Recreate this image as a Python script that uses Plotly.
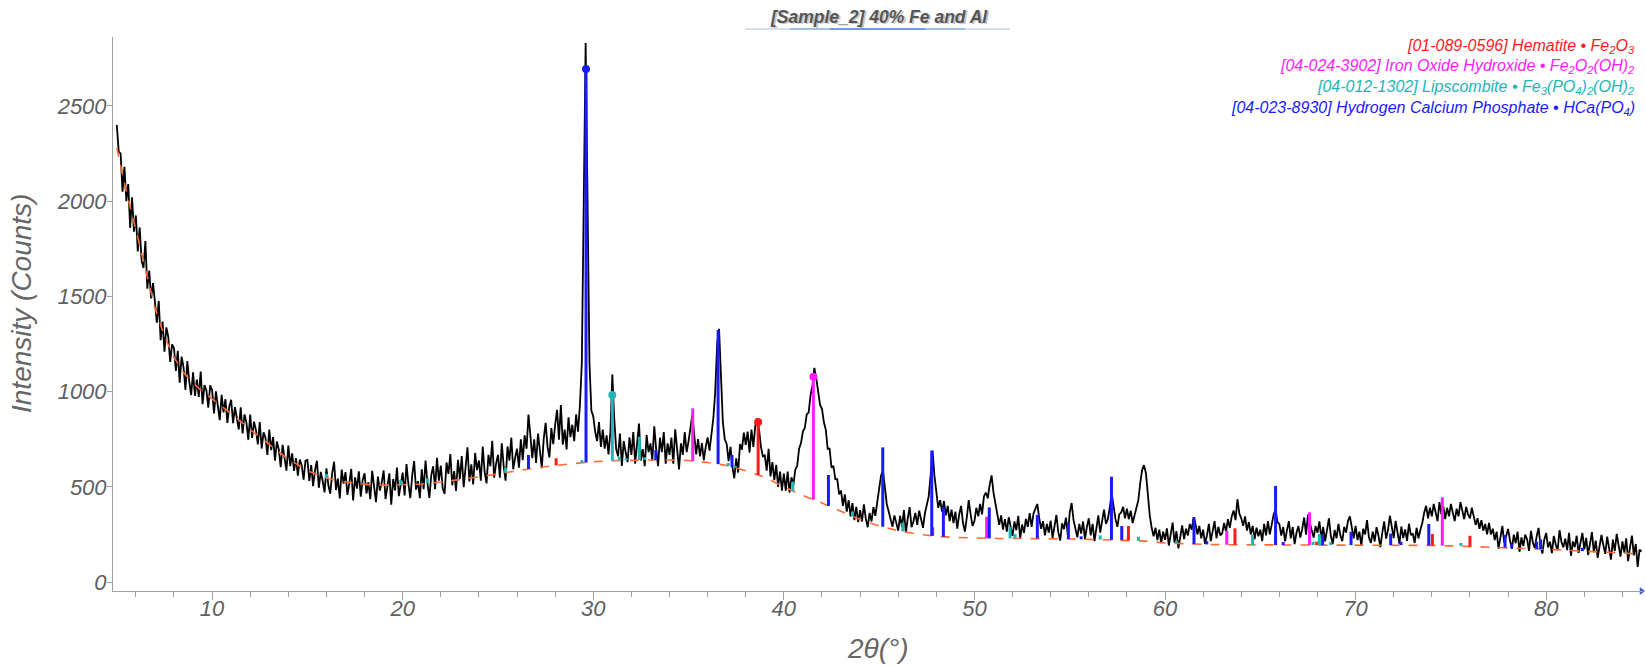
import numpy as np
import plotly.graph_objects as go

# ---------------- data ----------------
theta_start = 5.0
theta_step = 0.1

I_05_14 = [
    2400, 2260, 2250, 2050, 2180, 2000, 2090, 1860, 2020, 1840,
    1925, 1736, 1862, 1688, 1649, 1790, 1540, 1635, 1490, 1570,
    1472, 1362, 1476, 1270, 1368, 1210, 1337, 1288, 1156, 1248,
    1228, 1109, 1214, 1047, 1184, 1129, 1009, 1160, 1055, 982,
    1101, 978, 1063, 972, 1105, 934, 1034, 1007, 916, 1033,
    1008, 885, 1001, 926, 850, 983, 891, 960, 836, 921,
    957, 834, 919, 860, 801, 918, 780, 880, 838, 747,
    880, 757, 842, 798, 723, 840, 701, 786, 758, 667,
    800, 693, 761, 638, 738, 695, 603, 720, 644, 585,
    717, 609, 676, 584, 651, 559, 643, 614, 538, 637,
]
I_15_24 = [
    641, 531, 614, 504, 587, 637, 495, 578, 532, 471,
    597, 508, 464, 571, 632, 483, 543, 439, 591, 517,
    577, 458, 518, 594, 428, 550, 491, 581, 448, 535,
    571, 465, 524, 435, 584, 495, 420, 554, 480, 521,
    586, 436, 511, 571, 406, 541, 481, 601, 451, 526,
    575, 455, 620, 515, 440, 560, 635, 485, 530, 440,
    592, 488, 638, 518, 442, 562, 608, 488, 652, 532,
    612, 492, 462, 628, 568, 672, 508, 582, 478, 642,
    542, 662, 498, 602, 708, 528, 618, 512, 678, 588,
    638, 532, 712, 578, 518, 668, 608, 742, 548, 622,
]
I_25_34 = [
    668, 548, 728, 608, 532, 712, 638, 758, 592, 652,
    700, 600, 750, 640, 770, 700, 880, 770, 650, 750,
    626, 780, 682, 598, 752, 836, 710, 654, 808, 724,
    826, 904, 748, 930, 722, 800, 696, 865, 761, 826,
    740, 880, 790, 930, 1150, 1900, 2830, 2000, 1150, 900,
    870, 790, 740, 840, 710, 800, 700, 770, 670, 790,
    1090, 860, 700, 660, 780, 610, 740, 680, 630, 760,
    668, 788, 622, 728, 832, 638, 698, 608, 772, 682,
    728, 638, 818, 698, 608, 758, 682, 788, 622, 728,
    668, 758, 622, 802, 698, 592, 728, 668, 788, 682,
]
I_35_44 = [
    740, 800, 880, 770, 670, 750, 660, 730, 640, 710,
    760, 690, 780, 860, 1000, 1250, 1330, 1050, 840, 750,
    725, 635, 710, 605, 545, 650, 575, 725, 695, 785,
    720, 790, 680, 800, 710, 820, 860, 800, 710, 660,
    665, 585, 700, 555, 630, 535, 615, 500, 580, 480,
    570, 480, 580, 470, 550, 510, 590, 610, 700, 730,
    790, 810, 880, 890, 980, 1030, 1125, 1070, 1000, 930,
    910, 840, 800, 700, 700, 600, 610, 540, 540, 460,
    480, 400, 460, 370, 430, 345, 415, 325, 395, 315,
    378, 318, 408, 333, 288, 363, 318, 393, 348, 420,
]
I_45_54 = [
    480, 560, 585, 510, 410, 370, 320, 290, 350, 300,
    270, 348, 288, 378, 258, 333, 393, 288, 318, 363,
    300, 375, 320, 285, 360, 400, 450, 560, 690, 560,
    460, 390, 430, 370, 425, 350, 400, 320, 380, 310,
    370, 280, 355, 400, 310, 265, 340, 430, 355, 295,
    320, 390, 345, 410, 355, 450, 470, 440, 510, 560,
    470, 410, 345, 300, 350, 275, 330, 265, 340, 290,
    242, 318, 272, 348, 228, 302, 258, 332, 290, 362,
    290, 360, 385, 410, 335, 280, 320, 245, 305, 260,
    322, 232, 292, 352, 262, 218, 308, 278, 338, 248,
]
I_55_64 = [
    365, 415, 325, 270, 235, 305, 255, 318, 225, 290,
    335, 245, 305, 215, 290, 350, 260, 320, 380, 305,
    330, 390, 465, 400, 330, 290, 355, 365, 395, 335,
    385, 330, 375, 310, 355, 385, 430, 520, 590, 614,
    570, 460, 350, 285, 240, 285, 220, 275, 205, 265,
    222, 282, 192, 252, 312, 207, 267, 177, 237, 297,
    225, 280, 245, 305, 275, 340, 305, 250, 295, 230,
    275, 200, 245, 305, 215, 260, 320, 230, 290, 245,
    255, 310, 265, 330, 285, 345, 375, 325, 435, 360,
    335, 295, 345, 270, 315, 250, 295, 225, 285, 240,
]
I_65_74 = [
    275, 215, 305, 245, 320, 250, 315, 355, 380, 315,
    304, 244, 289, 214, 274, 319, 229, 289, 199, 259,
    294, 234, 279, 339, 249, 354, 309, 264, 234, 294,
    259, 319, 229, 289, 214, 274, 334, 244, 199, 274,
    230, 305, 245, 215, 290, 260, 320, 345, 275, 230,
    295, 220, 265, 190, 280, 250, 325, 235, 205, 265,
    213, 288, 243, 183, 258, 318, 228, 273, 348, 288,
    231, 321, 261, 201, 291, 231, 276, 216, 306, 246,
    255, 205, 285, 230, 275, 310, 365, 400, 335, 390,
    345, 410, 365, 320, 420, 355, 400, 330, 390, 345,
]
I_75_85 = [
    410, 355, 320, 385, 345, 420, 370, 330, 395, 355,
    335, 390, 345, 300, 335, 280, 325, 270, 305, 250,
    310, 250, 280, 220, 265, 175, 235, 295, 205, 250,
    279, 219, 174, 249, 204, 264, 159, 234, 189, 249,
    224, 164, 269, 209, 179, 239, 284, 194, 149, 224,
    257, 182, 212, 152, 242, 197, 167, 272, 212, 182,
    228, 168, 258, 138, 213, 183, 243, 153, 198, 258,
    172, 232, 142, 202, 262, 157, 217, 127, 202, 247,
    193, 148, 238, 178, 118, 223, 163, 253, 193, 133,
    214, 154, 229, 110, 184, 244, 140, 200, 80, 170,
    160,
]

# background (orange dashed)
bg_theta = [5, 5.5, 6, 6.5, 7, 7.5, 8, 8.5, 9, 9.5, 10, 11, 12, 13, 14, 15, 16, 17, 18,
            19, 20, 21, 22, 23, 24, 25, 26, 27, 28, 29, 30, 31, 32, 33, 34, 35, 36, 37,
            38, 39, 40, 41, 42, 43, 44, 45, 46, 47, 48, 49, 50, 51, 52, 53, 54, 55, 56,
            57, 58, 59, 60, 61, 62, 63, 64, 65, 66, 67, 68, 69, 70, 71, 72, 73, 74, 75,
            76, 77, 78, 79, 80, 81, 82, 83, 84, 85]
bg_counts = [2280, 2050, 1850, 1640, 1440, 1290, 1180, 1100, 1045, 1000, 960, 885, 800,
             720, 645, 585, 545, 525, 513, 508, 510, 515, 525, 537, 552, 568, 585, 600,
             612, 622, 632, 637, 640, 641, 641, 638, 628, 612, 585, 550, 500, 455, 415,
             370, 328, 295, 270, 252, 240, 234, 230, 229, 229, 229, 228, 226, 224, 222,
             220, 215, 205, 200, 198, 196, 195, 194, 194, 194, 194, 194, 194, 194, 194,
             194, 192, 190, 187, 184, 181, 177, 172, 167, 162, 157, 152, 147]

# reference sticks: (2theta, top counts)
hem_pos = [28.05, 38.65, 47.81, 58.08, 63.67, 67.96, 74.03, 76.0]
hem_top = [650, 840, 287, 294, 282, 212, 252, 243]

iox_pos = [35.22, 41.55, 50.64, 63.24, 67.58, 74.55]
iox_top = [912, 1078, 343, 270, 366, 445]

lip_pos = [16.0, 19.9, 21.3, 25.4, 29.4, 31.0, 31.37, 31.72, 32.42, 32.7, 37.08, 37.45,
           40.47, 43.6, 46.24, 51.87, 52.13, 56.6, 58.6, 60.6, 64.59, 67.77, 68.1,
           68.69, 75.53]
lip_top = [568, 535, 545, 600, 640, 982, 658, 650, 763, 655, 625, 610,
           527, 370, 312, 290, 252, 245, 238, 215, 247, 212, 252, 210, 205]

hcp_pos = [26.6, 29.62, 33.28, 36.55, 37.28, 42.34, 45.19, 47.76, 48.37, 50.78, 53.30,
           54.93, 55.6, 57.19, 57.73, 61.52, 62.19, 65.80, 66.2, 68.27, 69.76, 71.84,
           72.38, 73.84, 77.84, 78.19, 79.5, 79.71, 81.9]
hcp_top = [667, 2694, 693, 1323, 667, 562, 707, 690, 392, 392, 352, 312, 240, 553, 294,
           340, 215, 505, 210, 247, 264, 255, 212, 305, 247, 200, 212, 224, 180]

phases = [
    ("[01-089-0596] Hematite • Fe<sub>2</sub>O<sub>3</sub>", "#ff1a1a", hem_pos, hem_top),
    ("[04-024-3902] Iron Oxide Hydroxide • Fe<sub>2</sub>O<sub>2</sub>(OH)<sub>2</sub>", "#ff1aff", iox_pos, iox_top),
    ("[04-012-1302] Lipscombite • Fe<sub>3</sub>(PO<sub>4</sub>)<sub>2</sub>(OH)<sub>2</sub>", "#22b5b5", lip_pos, lip_top),
    ("[04-023-8930] Hydrogen Calcium Phosphate • HCa(PO<sub>4</sub>)", "#1a1aff", hcp_pos, hcp_top),
]

intensity = I_05_14 + I_15_24 + I_25_34 + I_35_44 + I_45_54 + I_55_64 + I_65_74 + I_75_85
two_theta = np.round(theta_start + theta_step * np.arange(len(intensity)), 2)

# ---------------- figure ----------------
fig = go.Figure()

fig.add_trace(go.Scatter(x=two_theta, y=intensity, mode="lines",
                         line=dict(color="black", width=1.8), hoverinfo="skip"))
fig.add_trace(go.Scatter(x=bg_theta, y=bg_counts, mode="lines",
                         line=dict(color="#ff6a33", width=1.6, dash="dash"), hoverinfo="skip"))

for name, color, pos, top in phases:
    xs, ys = [], []
    for p, t in zip(pos, top):
        b = float(np.interp(p, bg_theta, bg_counts))
        xs += [p, p, None]
        ys += [b, t, None]
    fig.add_trace(go.Scatter(x=xs, y=ys, mode="lines", line=dict(color=color, width=3),
                             hoverinfo="skip"))
    k = int(np.argmax(top))
    fig.add_trace(go.Scatter(x=[pos[k]], y=[top[k]], mode="markers",
                             marker=dict(color=color, size=8), hoverinfo="skip"))

# small blue end marker on the x axis
fig.add_trace(go.Scatter(x=[85.0], y=[-47], mode="markers", cliponaxis=False,
                         marker=dict(color="#3a5fd0", size=7, symbol="triangle-right"),
                         hoverinfo="skip"))

tick_font = dict(family="Liberation Sans, Arial, sans-serif", size=22, color="#5f5f5f",
                 style="italic")

fig.update_layout(
    width=1645, height=667,
    margin=dict(l=113, r=2, t=37, b=76),
    paper_bgcolor="white", plot_bgcolor="white",
    showlegend=False,
    xaxis=dict(range=[4.8, 85.08], tick0=0, dtick=10, ticks="outside", ticklen=8,
               tickcolor="#a0a0a0", showline=True, linecolor="#a0a0a0", linewidth=1,
               showgrid=False, zeroline=False, tickfont=tick_font, ticklabelstandoff=-10,
               minor=dict(dtick=2, ticks="outside", ticklen=5, tickcolor="#a0a0a0")),
    yaxis=dict(range=[-47, 2862], tick0=0, dtick=500, ticks="outside", ticklen=5,
               tickcolor="#a0a0a0", showline=True, linecolor="#a0a0a0", linewidth=1,
               showgrid=False, zeroline=False, tickfont=tick_font, ticklabelstandoff=-4),
)


def py(px):
    return (591 - px) / 554


def pxx(px):
    return (px - 113) / 1530


annotations = []
title_text = "[Sample_2] 40% Fe and Al"
annotations.append(dict(x=pxx(879), y=py(17), xref="paper", yref="paper", yanchor="middle",
                        xanchor="center", text=title_text, showarrow=False, xshift=1.5,
                        yshift=-1.5,
                        font=dict(family="Liberation Sans, Arial", size=17.5,
                                  color="rgba(0,0,0,0.22)", weight="bold", style="italic")))
annotations.append(dict(x=pxx(879), y=py(17), xref="paper", yref="paper", yanchor="middle",
                        xanchor="center", text=title_text, showarrow=False,
                        font=dict(family="Liberation Sans, Arial", size=17.5, color="#555555",
                                  weight="bold", style="italic")))
annotations.append(dict(x=pxx(21), y=py(304), xref="paper", yref="paper",
                        xanchor="center", yanchor="middle",
                        text="Intensity (Counts)", showarrow=False, textangle=-90,
                        font=dict(family="Liberation Sans, Arial", size=28, color="#666666",
                                  style="italic")))
annotations.append(dict(x=pxx(878), y=py(648), xref="paper", yref="paper",
                        xanchor="center", yanchor="middle",
                        text="2θ(°)", showarrow=False,
                        font=dict(family="Liberation Sans, Arial", size=28, color="#666666",
                                  style="italic")))
for i, (name, color, pos, top) in enumerate(phases):
    annotations.append(dict(x=1, y=py(46 + i * 20.7), xref="paper", yref="paper",
                            xanchor="right", yanchor="middle", xshift=-6, text=name,
                            showarrow=False,
                            font=dict(family="Liberation Sans, Arial", size=16, color=color,
                                      style="italic")))
fig.update_layout(annotations=annotations)

for x0, x1, op in [(745, 1010, 0.22), (790, 965, 0.32), (830, 925, 0.45)]:
    fig.add_shape(type="line", xref="paper", yref="paper",
                  x0=pxx(x0), x1=pxx(x1), y0=py(29), y1=py(29),
                  line=dict(color="#3a78c8", width=2), opacity=op)

fig.write_html(
    "out.html",
    config={"displayModeBar": False},
    post_script="document.body.style.margin='0';document.body.style.padding='0';"
                "document.body.style.overflow='hidden';",
)
